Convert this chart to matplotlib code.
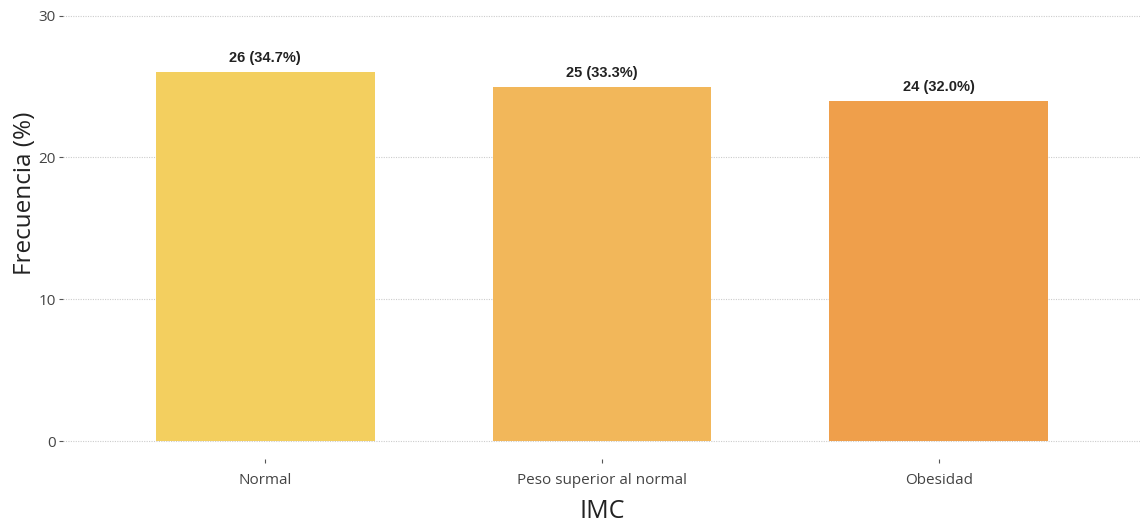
import matplotlib
matplotlib.use("Agg")
import matplotlib.pyplot as plt

plt.rcParams['font.family'] = ['Open Sans', 'DejaVu Sans']

# IMC categories and counts
categorias = ["Normal", "Peso superior al normal", "Obesidad"]
frecuencia = [26, 25, 24]
porcentaje = [34.7, 33.3, 32.0]
colores = ["#F3CF5F", "#F2B75A", "#EF9F4B"]

fig = plt.figure(figsize=(11.4, 5.23), dpi=100)
ax = fig.add_axes([63 / 1140, 60 / 523, 1078 / 1140, 448 / 523])

x = range(len(categorias))
ax.bar(x, frecuencia, width=0.65, color=colores, zorder=2)

for xi, n, p in zip(x, frecuencia, porcentaje):
    ax.text(xi, n + 0.5, f"{n} ({p:.1f}%)", ha="center", va="bottom",
            fontsize=10.5, fontweight="bold", family=["Liberation Sans", "DejaVu Sans"],
            color="#222222")

ax.set_xlim(-0.6, 2.6)
ax.set_ylim(-1.55, 30.05)
ax.set_yticks([0, 10, 20, 30])
ax.set_xticks(list(x))
ax.set_xticklabels(categorias)

ax.grid(axis="y", linestyle=(0, (1, 1.2)), color="#CCCCCC", linewidth=0.8, zorder=0)
for s in ax.spines.values():
    s.set_visible(False)

ax.tick_params(axis="y", length=3, color="#555555", labelsize=11, labelcolor="#444444", pad=2)
ax.tick_params(axis="x", length=3, color="#555555", labelsize=11, labelcolor="#444444", pad=7)
ax.tick_params(axis="x", direction="in")

ax.set_ylabel("Frecuencia (%)", fontsize=17.5, color="#222222")
ax.yaxis.set_label_coords(-0.024, 0.603)
ax.set_xlabel("IMC", fontsize=18, color="#222222", labelpad=8)

fig.savefig("out.png", dpi=100)
